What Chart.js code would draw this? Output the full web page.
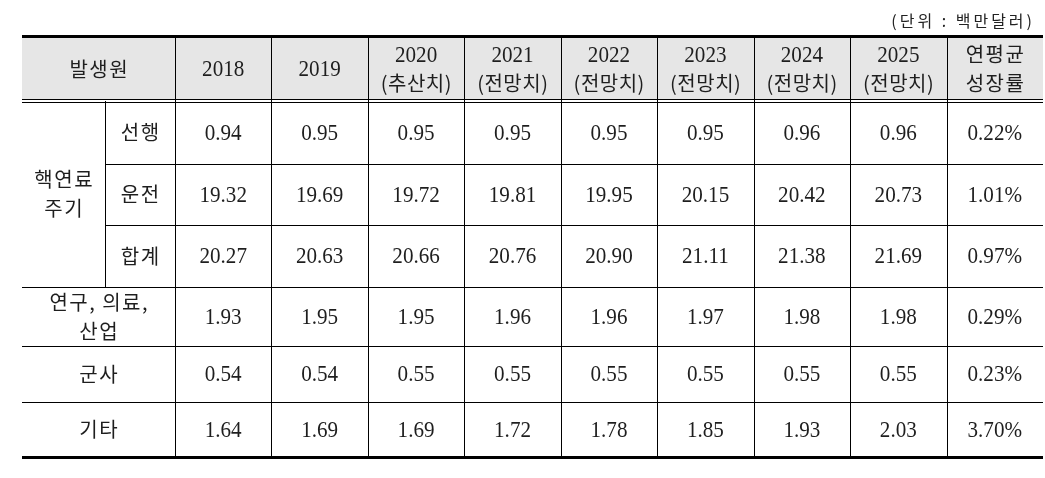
<!DOCTYPE html>
<html>
<head>
<meta charset="utf-8">
<script src="https://cdn.jsdelivr.net/npm/chart.js@4.4.0/dist/chart.umd.min.js"></script>
<style>
    html, body { margin: 0; padding: 0; background: #fff; }
    canvas { display: block; }
</style>
</head>
<body>
<canvas id="tableChart" width="1045" height="478"></canvas>
<script>
// 표 데이터 (단위: 백만달러)
const unitText = '(단위 : 백만달러)';
const cornerLabel = '발생원';
const years = ['2018', '2019', '2020', '2021', '2022', '2023', '2024', '2025'];
const yearNotes = ['', '', '(추산치)', '(전망치)', '(전망치)', '(전망치)', '(전망치)', '(전망치)'];
const growthLabel = ['연평균', '성장률'];
const groupLabel = ['핵연료', '주기'];
const subLabels = ['선행', '운전', '합계'];
const otherLabels = [['연구, 의료,', '산업'], ['군사'], ['기타']];

const frontEnd  = [0.94, 0.95, 0.95, 0.95, 0.95, 0.95, 0.96, 0.96];
const operation = [19.32, 19.69, 19.72, 19.81, 19.95, 20.15, 20.42, 20.73];
const fuelTotal = [20.27, 20.63, 20.66, 20.76, 20.90, 21.11, 21.38, 21.69];
const research  = [1.93, 1.95, 1.95, 1.96, 1.96, 1.97, 1.98, 1.98];
const military  = [0.54, 0.54, 0.55, 0.55, 0.55, 0.55, 0.55, 0.55];
const others    = [1.64, 1.69, 1.69, 1.72, 1.78, 1.85, 1.93, 2.03];
const growth    = [0.22, 1.01, 0.97, 0.29, 0.23, 3.70];

// 레이아웃 (열 너비, 행 높이) - 스케일 단위
const colWidths = [0.86, 0.726, 1, 1, 1, 1, 1, 1, 1, 1, 1];
const rowHeights = [64, 63, 61, 62, 59, 56, 55];

const colEdges = [0];
colWidths.forEach(w => colEdges.push(colEdges[colEdges.length - 1] + w));
const rowEdges = [0];
rowHeights.forEach(h => rowEdges.push(rowEdges[rowEdges.length - 1] + h));

const NUM_FONT = '"Liberation Serif", "DejaVu Serif", serif';
const KOR_FONT = '"Noto Sans CJK KR", sans-serif';

function cx(c0, c1) { return (colEdges[c0] + colEdges[c1 + 1]) / 2; }
function cy(r0, r1) { return (rowEdges[r0] + rowEdges[r1 + 1]) / 2; }

// 셀 목록 만들기
const cells = [];
cells.push({ x: cx(0, 1), y: cy(0, 0), lines: [cornerLabel], kind: 'kor' });
years.forEach((yr, i) => {
    const lines = yearNotes[i] ? [yr, yearNotes[i]] : [yr];
    cells.push({ x: cx(i + 2, i + 2), y: cy(0, 0), lines: lines, kind: 'head' });
});
cells.push({ x: cx(10, 10), y: cy(0, 0), lines: growthLabel, kind: 'kor' });

cells.push({ x: cx(0, 0), y: cy(1, 3), lines: groupLabel, kind: 'kor' });
subLabels.forEach((s, i) => {
    cells.push({ x: cx(1, 1), y: cy(i + 1, i + 1), lines: [s], kind: 'kor' });
});
otherLabels.forEach((s, i) => {
    cells.push({ x: cx(0, 1), y: cy(i + 4, i + 4), lines: s, kind: 'kor' });
});

[frontEnd, operation, fuelTotal, research, military, others].forEach((series, r) => {
    series.forEach((v, i) => {
        cells.push({ x: cx(i + 2, i + 2), y: cy(r + 1, r + 1), lines: [v.toFixed(2)], kind: 'num' });
    });
    cells.push({ x: cx(10, 10), y: cy(r + 1, r + 1), lines: [growth[r].toFixed(2) + '%'], kind: 'num' });
});

// 숫자 글꼴은 가로로 약간 좁게 그림
function drawNum(ctx, text, x, y, size) {
    ctx.save();
    ctx.font = size + 'px ' + NUM_FONT;
    ctx.translate(x, y);
    ctx.scale(0.88, 1);
    ctx.fillText(text, 0, 0);
    ctx.restore();
}

// 한글은 자간을 조금 띄움
function drawKor(ctx, text, x, y, size, spacing) {
    ctx.save();
    ctx.font = size + 'px ' + KOR_FONT;
    ctx.letterSpacing = spacing + 'px';
    ctx.fillText(text, x + spacing / 2, y);
    ctx.restore();
}

const tablePlugin = {
    id: 'tableGrid',
    beforeDatasetsDraw(chart) {
        const ctx = chart.ctx;
        const xs = chart.scales.x, ys = chart.scales.y;
        const left = chart.chartArea.left, right = chart.chartArea.right;
        const X = v => Math.round(xs.getPixelForValue(v));
        const Y = v => Math.round(ys.getPixelForValue(v));
        const top = Y(rowEdges[0]);
        const headBottom = Y(rowEdges[1]);
        const bottom = Y(rowEdges[rowEdges.length - 1]);

        ctx.save();
        // 머리글 배경
        ctx.fillStyle = '#e6e6e6';
        ctx.fillRect(left, top, right - left, headBottom - 2 - top);

        ctx.fillStyle = '#000';
        // 세로선
        for (let c = 2; c < colEdges.length - 1; c++) {
            ctx.fillRect(X(colEdges[c]), top, 1, bottom - top);
        }
        ctx.fillRect(X(colEdges[1]), headBottom, 1, Y(rowEdges[4]) - headBottom);

        // 가로선
        [2, 3].forEach(r => {
            const x0 = X(colEdges[1]);
            ctx.fillRect(x0, Y(rowEdges[r]), right - x0, 1);
        });
        [4, 5, 6].forEach(r => {
            ctx.fillRect(left, Y(rowEdges[r]), right - left, 1);
        });

        // 머리글 아래 이중선
        ctx.fillRect(left, headBottom - 2, right - left, 1);
        ctx.fillRect(left, headBottom + 1, right - left, 1);

        // 위, 아래 굵은 선
        ctx.fillRect(left, top - 2, right - left, 3);
        ctx.fillRect(left, bottom - 1, right - left, 3);

        // 단위
        ctx.fillStyle = '#222';
        ctx.textAlign = 'right';
        ctx.textBaseline = 'middle';
        ctx.font = '16px ' + KOR_FONT;
        ctx.letterSpacing = '3px';
        ctx.fillText(unitText, right - 8, top - 16);
        ctx.restore();
    },
    afterDatasetsDraw(chart) {
        const ctx = chart.ctx;
        const meta = chart.getDatasetMeta(0);
        const data = chart.data.datasets[0].data;
        ctx.save();
        ctx.fillStyle = '#1e1e1e';
        ctx.textAlign = 'center';
        ctx.textBaseline = 'middle';
        meta.data.forEach((pt, i) => {
            const cell = data[i];
            const gap = 29;
            const y0 = pt.y - (cell.lines.length - 1) * gap / 2;
            cell.lines.forEach((line, j) => {
                const y = y0 + j * gap;
                if (cell.kind === 'num' || (cell.kind === 'head' && j === 0)) {
                    drawNum(ctx, line, pt.x, y + 1, 24);
                } else if (cell.kind === 'head') {
                    drawKor(ctx, line, pt.x, y, 20, 0.5);
                } else {
                    drawKor(ctx, line, pt.x, y, 20, 1.5);
                }
            });
        });
        ctx.restore();
    }
};

new Chart(document.getElementById('tableChart').getContext('2d'), {
    type: 'scatter',
    data: {
        datasets: [{
            data: cells,
            pointRadius: 0,
            pointHoverRadius: 0
        }]
    },
    options: {
        responsive: false,
        animation: false,
        devicePixelRatio: 1,
        layout: { padding: { left: 22, right: 2, top: 37, bottom: 21 } },
        plugins: {
            legend: { display: false },
            tooltip: { enabled: false },
            title: { display: false }
        },
        scales: {
            x: { type: 'linear', display: false, min: 0, max: colEdges[colEdges.length - 1] },
            y: { type: 'linear', display: false, min: 0, max: rowEdges[rowEdges.length - 1], reverse: true }
        }
    },
    plugins: [tablePlugin]
});
</script>
</body>
</html>
